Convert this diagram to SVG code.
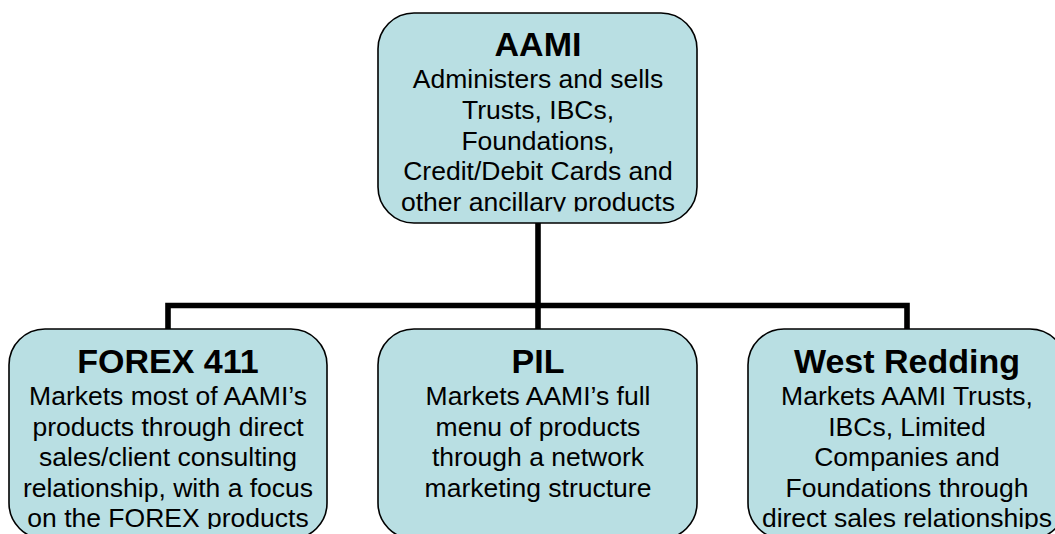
<svg xmlns="http://www.w3.org/2000/svg" width="1055" height="534" viewBox="0 0 1055 534">
  <style>
    .box { fill: #b9dfe3; stroke: #000; stroke-width: 1.6; }
    .conn { fill: none; stroke: #000; stroke-width: 5.6; stroke-linejoin: miter; stroke-linecap: butt; }
    .title { font-family: "Liberation Sans", Arial, sans-serif; font-weight: bold; font-size: 34px; fill: #000; text-anchor: middle; }
    .body { font-family: "Liberation Sans", Arial, sans-serif; font-size: 26.5px; fill: #000; text-anchor: middle; }
  </style>
  <defs>
    <clipPath id="clipTop"><rect x="0" y="13" width="1055" height="198.5"/></clipPath>
    <clipPath id="clipBottom"><rect x="0" y="329" width="1055" height="200"/></clipPath>
  </defs>
  <rect width="1055" height="534" fill="#fff"/>
  <g id="connectors">
    <path class="conn" d="M538,223 V329"/>
    <path class="conn" d="M168,329 V305.5 H907 V329"/>
  </g>
  <g id="aami">
    <rect class="box" x="378" y="13" width="319" height="210" rx="36" ry="36"/>
    <g clip-path="url(#clipTop)">
      <text class="title" x="538" y="56">AAMI</text>
      <text class="body" x="538" y="88.3">Administers and sells</text>
      <text class="body" x="538" y="118.9">Trusts, IBCs,</text>
      <text class="body" x="538" y="149.5">Foundations,</text>
      <text class="body" x="538" y="180.1">Credit/Debit Cards and</text>
      <text class="body" x="538" y="210.7">other ancillary products</text>
    </g>
  </g>
  <g id="forex411">
    <rect class="box" x="9" y="329" width="318" height="210" rx="36" ry="36"/>
    <g clip-path="url(#clipBottom)">
      <text class="title" x="168" y="373">FOREX 411</text>
      <text class="body" x="168" y="405">Markets most of AAMI’s</text>
      <text class="body" x="168" y="435.6">products through direct</text>
      <text class="body" x="168" y="466.2">sales/client consulting</text>
      <text class="body" x="168" y="496.8">relationship, with a focus</text>
      <text class="body" x="168" y="527.4">on the FOREX products</text>
    </g>
  </g>
  <g id="pil">
    <rect class="box" x="378" y="329" width="319" height="210" rx="36" ry="36"/>
    <g clip-path="url(#clipBottom)">
      <text class="title" x="538" y="373">PIL</text>
      <text class="body" x="538" y="405">Markets AAMI’s full</text>
      <text class="body" x="538" y="435.6">menu of products</text>
      <text class="body" x="538" y="466.2">through a network</text>
      <text class="body" x="538" y="496.8">marketing structure</text>
    </g>
  </g>
  <g id="westredding">
    <rect class="box" x="748" y="329" width="318" height="210" rx="36" ry="36"/>
    <g clip-path="url(#clipBottom)">
      <text class="title" x="907" y="373">West Redding</text>
      <text class="body" x="907" y="405">Markets AAMI Trusts,</text>
      <text class="body" x="907" y="435.6">IBCs, Limited</text>
      <text class="body" x="907" y="466.2">Companies and</text>
      <text class="body" x="907" y="496.8">Foundations through</text>
      <text class="body" x="907" y="527.4">direct sales relationships</text>
    </g>
  </g>
</svg>
